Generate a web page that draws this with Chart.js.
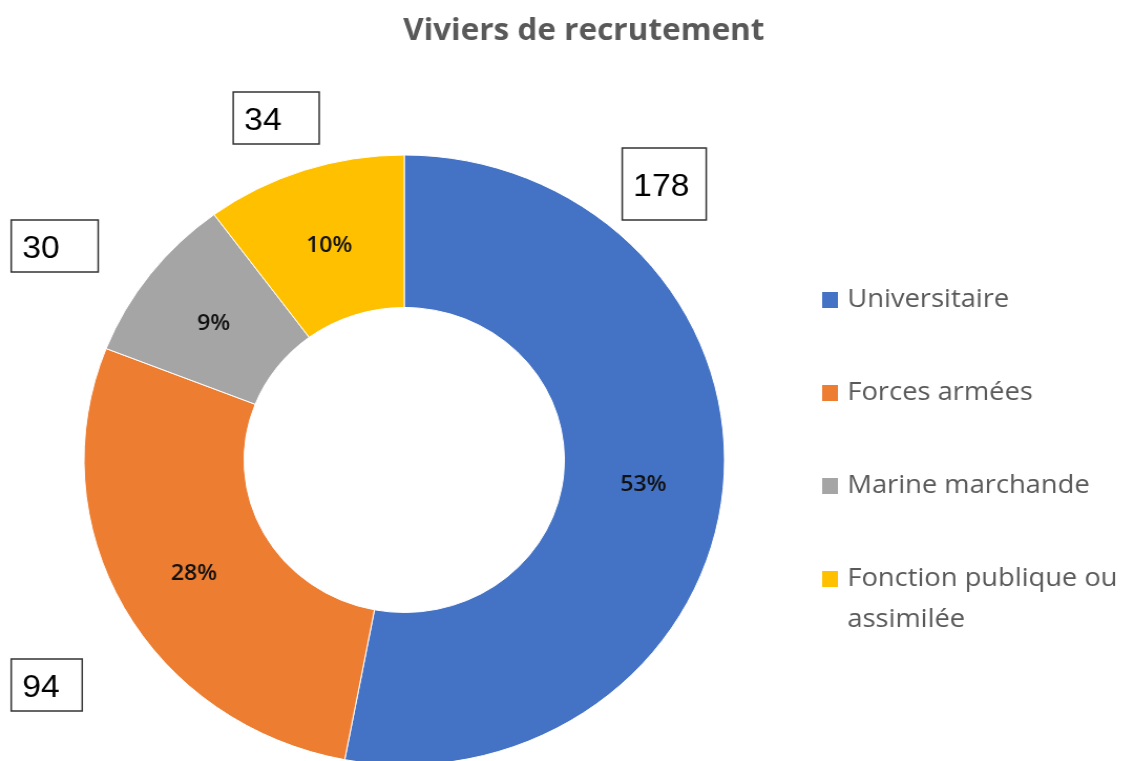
<!DOCTYPE html>
<html>
<head>
<meta charset="utf-8">
<title>Viviers de recrutement</title>
<script src="https://cdn.jsdelivr.net/npm/chart.js@4.4.1/dist/chart.umd.min.js"></script>
<style>
  html, body { margin: 0; padding: 0; background: #fff; overflow: hidden; }
  /* the original picture is a little wider than tall */
  #chart { display: block; transform: scaleX(1.05); transform-origin: 0 0; }
</style>
</head>
<body>
<canvas id="chart" width="1086" height="780"></canvas>
<script>
const categories = ["Universitaire", "Forces armées", "Marine marchande", "Fonction publique ou assimilée"];
const legendLines = [["Universitaire"], ["Forces armées"], ["Marine marchande"], ["Fonction publique ou", "assimilée"]];
const counts = [178, 94, 30, 34];
const colors = ["#4472C4", "#ED7D31", "#A5A5A5", "#FFC000"];

// value boxes were dragged by hand: dx, dy from the ring centre, width, height
const boxLayout = [
  [207.6, -312, 80, 72],
  [-374.3, 199, 67.6, 52],
  [-374.3, -240, 82.8, 52],
  [-162.9, -368, 81.9, 52],
];

const total = counts.reduce((a, b) => a + b, 0);

// Percent labels inside the ring + boxed counts outside
const labelsPlugin = {
  id: "labels",
  afterDatasetsDraw(chart) {
    const ctx = chart.ctx;
    const arcs = chart.getDatasetMeta(0).data;
    ctx.save();
    ctx.font = "600 22px 'Open Sans'";
    ctx.fillStyle = "#111";
    ctx.textAlign = "center";
    ctx.textBaseline = "middle";
    arcs.forEach((arc, i) => {
      const p = arc.tooltipPosition();
      ctx.fillText(Math.round((counts[i] / total) * 100) + "%", p.x, p.y + 3);
    });

    ctx.font = "32px 'Liberation Sans', Arial";
    ctx.textAlign = "left";
    ctx.strokeStyle = "#333";
    ctx.lineWidth = 1.5;
    arcs.forEach((arc, i) => {
      const [dx, dy, w, h] = boxLayout[i];
      const x = arc.x + dx;
      const y = arc.y + dy;
      ctx.fillStyle = "#fff";
      ctx.fillRect(x, y, w, h);
      ctx.strokeRect(x, y, w, h);
      ctx.fillStyle = "#000";
      ctx.fillText(String(counts[i]), x + 10.5, y + h / 2 + 3);
    });
    ctx.restore();
  },
  // title and legend
  afterDraw(chart) {
    const ctx = chart.ctx;
    ctx.save();
    ctx.fillStyle = "#595959";
    ctx.font = "bold 30px 'Open Sans'";
    ctx.textAlign = "center";
    ctx.textBaseline = "middle";
    ctx.fillText("Viviers de recrutement", 556, 31);

    ctx.font = "26px 'Open Sans'";
    ctx.textAlign = "left";
    legendLines.forEach((lines, i) => {
      const cy = 300 + i * 93;
      ctx.fillStyle = colors[i];
      ctx.fillRect(783, cy - 8, 15, 16);
      ctx.fillStyle = "#595959";
      lines.forEach((line, j) => {
        ctx.fillText(line, 807, cy + j * 41);
      });
    });
    ctx.restore();
  },
};

new Chart(document.getElementById("chart"), {
  type: "doughnut",
  data: {
    labels: categories,
    datasets: [
      {
        data: counts,
        backgroundColor: colors,
        borderColor: "#fff",
        borderWidth: 1,
      },
    ],
  },
  options: {
    responsive: false,
    animation: false,
    radius: 305,
    cutout: "50%",
    layout: { padding: { left: 0, right: 316, top: 140, bottom: 0 } },
    plugins: {
      legend: { display: false },
      tooltip: { enabled: false },
    },
  },
  plugins: [labelsPlugin],
});
</script>
</body>
</html>
